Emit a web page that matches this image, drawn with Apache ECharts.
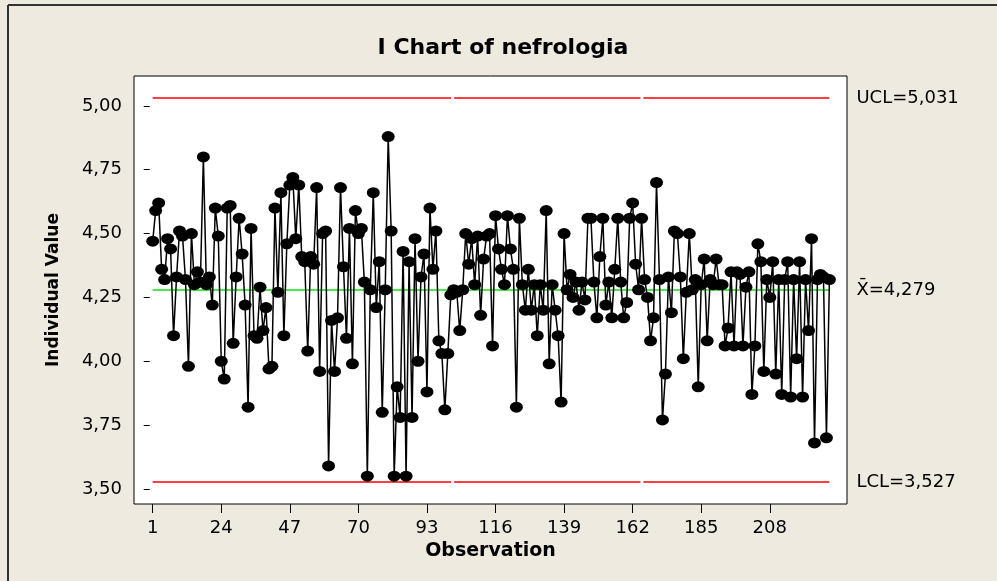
<!DOCTYPE html>
<html><head><meta charset="utf-8">
<script src="https://cdn.jsdelivr.net/npm/echarts@6/dist/echarts.min.js"></script>
<style>html,body{margin:0;padding:0;background:#efeae0}#c{width:997px;height:581px}</style>
</head><body><div id="c"></div>
<script>
const chartTitle = 'I Chart of nefrologia';
const xName = 'Observation';
const yName = 'Individual Value';
const values = [
  4.47, 4.59, 4.62, 4.36, 4.32, 4.48, 4.44, 4.10, 4.33, 4.51,
  4.49, 4.32, 3.98, 4.50, 4.30, 4.35, 4.31, 4.80, 4.30, 4.33,
  4.22, 4.60, 4.49, 4.00, 3.93, 4.60, 4.61, 4.07, 4.33, 4.56,
  4.42, 4.22, 3.82, 4.52, 4.10, 4.09, 4.29, 4.12, 4.21, 3.97,
  3.98, 4.60, 4.27, 4.66, 4.10, 4.46, 4.69, 4.72, 4.48, 4.69,
  4.41, 4.39, 4.04, 4.41, 4.38, 4.68, 3.96, 4.50, 4.51, 3.59,
  4.16, 3.96, 4.17, 4.68, 4.37, 4.09, 4.52, 3.99, 4.59, 4.50,
  4.52, 4.31, 3.55, 4.28, 4.66, 4.21, 4.39, 3.80, 4.28, 4.88,
  4.51, 3.55, 3.90, 3.78, 4.43, 3.55, 4.39, 3.78, 4.48, 4.00,
  4.33, 4.42, 3.88, 4.60, 4.36, 4.51, 4.08, 4.03, 3.81, 4.03,
  4.26, 4.28, 4.27, 4.12, 4.28, 4.50, 4.38, 4.48, 4.30, 4.49,
  4.18, 4.40, 4.49, 4.50, 4.06, 4.57, 4.44, 4.36, 4.30, 4.57,
  4.44, 4.36, 3.82, 4.56, 4.30, 4.20, 4.36, 4.20, 4.30, 4.10,
  4.30, 4.20, 4.59, 3.99, 4.30, 4.20, 4.10, 3.84, 4.50, 4.28,
  4.34, 4.25, 4.31, 4.20, 4.31, 4.24, 4.56, 4.56, 4.31, 4.17,
  4.41, 4.56, 4.22, 4.31, 4.17, 4.36, 4.56, 4.31, 4.17, 4.23,
  4.56, 4.62, 4.38, 4.28, 4.56, 4.32, 4.25, 4.08, 4.17, 4.70,
  4.32, 3.77, 3.95, 4.33, 4.19, 4.51, 4.50, 4.33, 4.01, 4.27,
  4.50, 4.28, 4.32, 3.90, 4.30, 4.40, 4.08, 4.32, 4.30, 4.40,
  4.30, 4.30, 4.06, 4.13, 4.35, 4.06, 4.35, 4.34, 4.06, 4.29,
  4.35, 3.87, 4.06, 4.46, 4.39, 3.96, 4.32, 4.25, 4.39, 3.95,
  4.32, 3.87, 4.32, 4.39, 3.86, 4.32, 4.01, 4.39, 3.86, 4.32,
  4.12, 4.48, 3.68, 4.32, 4.34, 4.33, 3.70, 4.32
];
const xTicks = [1, 24, 47, 70, 93, 116, 139, 162, 185, 208];
const yTicks = [3.50, 3.75, 4.00, 4.25, 4.50, 4.75, 5.00];
const UCL = 5.031, CL = 4.279, LCL = 3.527;
const limitSegmentsObs = [[1, 101.1], [102.1, 164.6], [165.6, 228]];

const fmt = (v, d) => v.toFixed(d).replace('.', ',');
const FONT = 'DejaVu Sans';
const n = values.length;
const points = values.map((v, i) => [i + 1, v]);

function segLine(val, color, text, segments) {
  return segments.map((s, i) => [
    {
      coord: [s[0], val],
      lineStyle: { color: color, width: 1.5, type: 'solid' },
      label: i === segments.length - 1
        ? { show: true, position: 'end', distance: 27, formatter: text, color: '#000', fontSize: 18, fontFamily: FONT }
        : { show: false }
    },
    { coord: [s[1], val] }
  ]);
}

const chart = echarts.init(document.getElementById('c'), null, { renderer: 'canvas' });
chart.setOption({
  animation: false,
  backgroundColor: '#efeae0',
  title: {
    text: chartTitle, left: 498, top: 32, textAlign: 'center',
    textStyle: { fontFamily: FONT, fontWeight: 'bold', fontSize: 22, color: '#000' }
  },
  graphic: [
    { type: 'line', shape: { x1: 8, y1: 5, x2: 997, y2: 5 }, style: { stroke: '#333', lineWidth: 2 } },
    { type: 'line', shape: { x1: 8, y1: 5, x2: 8, y2: 581 }, style: { stroke: '#333', lineWidth: 2 } }
  ],
  grid: { left: 134, right: 150, top: 76, bottom: 77, show: true, backgroundColor: '#fff', borderColor: '#000', borderWidth: 1 },
  xAxis: {
    type: 'value', min: -5.27, max: 233.9,
    name: xName, nameLocation: 'middle', nameGap: 38,
    nameTextStyle: { fontFamily: FONT, fontWeight: 'bold', fontSize: 19, color: '#000' },
    axisLine: { show: false },
    splitLine: { show: false },
    axisTick: { show: true, length: 9, customValues: xTicks, lineStyle: { color: '#000' } },
    axisLabel: { customValues: xTicks, margin: 15, fontFamily: FONT, fontSize: 18, color: '#000' }
  },
  yAxis: {
    type: 'value', min: 3.441, max: 5.117,
    name: yName, nameLocation: 'middle', nameGap: 72,
    nameTextStyle: { fontFamily: FONT, fontWeight: 'bold', fontSize: 17, color: '#000' },
    axisLine: { show: false },
    splitLine: { show: false },
    axisTick: { show: true, length: 6, customValues: yTicks, lineStyle: { color: '#000' } },
    axisLabel: { customValues: yTicks, margin: 12, fontFamily: FONT, fontSize: 18, color: '#000', formatter: v => fmt(v, 2) }
  },
  series: [
    {
      type: 'line', data: [], silent: true,
      markLine: {
        silent: true, symbol: 'none', animation: false,
        data: [
          ...segLine(UCL, '#ff0000', 'UCL=' + fmt(UCL, 3), limitSegmentsObs),
          ...segLine(CL, '#11e011', 'X\u0304=' + fmt(CL, 3), [[1, n]]),
          ...segLine(LCL, '#ff0000', 'LCL=' + fmt(LCL, 3), limitSegmentsObs)
        ]
      }
    },
    {
      type: 'line', data: points, z: 5,
      symbol: 'circle', symbolSize: [13, 11], showAllSymbol: true,
      lineStyle: { color: '#000', width: 1.5 },
      itemStyle: { color: '#000' }
    }
  ]
});
</script></body></html>
